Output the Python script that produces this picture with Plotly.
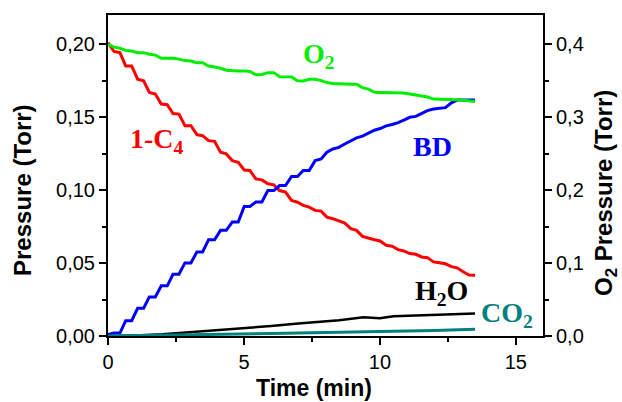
import plotly.graph_objects as go

# ---------------- data ----------------
time = [0.00, 0.22, 0.44, 0.65, 0.87, 1.09, 1.31, 1.52, 1.74, 1.96,
        2.18, 2.39, 2.61, 2.83, 3.05, 3.27, 3.48, 3.70, 3.92, 4.14,
        4.35, 4.57, 4.79, 5.01, 5.22, 5.44, 5.66, 5.88, 6.10, 6.31,
        6.53, 6.75, 6.97, 7.18, 7.40, 7.62, 7.84, 8.05, 8.27, 8.49,
        8.71, 8.93, 9.14, 9.36, 9.58, 9.80, 10.01, 10.23, 10.45, 10.67,
        10.88, 11.10, 11.32, 11.54, 11.75, 11.97, 12.19, 12.41, 12.63, 12.84,
        13.06, 13.28, 13.50]

c4_1 = [0.201, 0.195, 0.1942, 0.1851, 0.1851, 0.176, 0.1749, 0.1669, 0.1658, 0.159,
        0.1585, 0.1525, 0.1521, 0.1441, 0.1441, 0.138, 0.1373, 0.1339, 0.1334, 0.1259,
        0.1248, 0.1202, 0.119, 0.1138, 0.1134, 0.1077, 0.107, 0.1043, 0.1036, 0.0997,
        0.0986, 0.0929, 0.0917, 0.0895, 0.0883, 0.0861, 0.0856, 0.0815, 0.0804, 0.0788,
        0.0774, 0.0736, 0.0724, 0.0683, 0.0674, 0.066, 0.0651, 0.0622, 0.0615, 0.0592,
        0.0583, 0.0565, 0.056, 0.0542, 0.0537, 0.0508, 0.0502, 0.0495, 0.0475, 0.0467,
        0.044, 0.0418, 0.0417]

bd = [0.001, 0.002, 0.002, 0.0105, 0.0105, 0.019, 0.019, 0.0268, 0.0268, 0.0344,
      0.0344, 0.0423, 0.0423, 0.0501, 0.0501, 0.0576, 0.0576, 0.066, 0.066, 0.0724,
      0.0724, 0.0781, 0.0781, 0.0888, 0.0888, 0.0918, 0.0918, 0.0997, 0.0997, 0.1031,
      0.1031, 0.1093, 0.1093, 0.1134, 0.1134, 0.1202, 0.1214, 0.1259, 0.1282, 0.1293,
      0.1316, 0.1335, 0.1358, 0.137, 0.139, 0.141, 0.1422, 0.144, 0.145, 0.1462,
      0.148, 0.1499, 0.1505, 0.1528, 0.1545, 0.1556, 0.156, 0.1565, 0.1598, 0.1617,
      0.1617, 0.1617, 0.1617]

o2 = [0.400, 0.396, 0.3944, 0.3915, 0.3907, 0.3884, 0.3884, 0.3862, 0.385, 0.3807,
      0.3807, 0.3807, 0.3795, 0.3775, 0.377, 0.3747, 0.3745, 0.370, 0.3687, 0.367,
      0.3643, 0.3634, 0.3634, 0.3634, 0.3625, 0.358, 0.3585, 0.361, 0.361, 0.3555,
      0.3552, 0.3552, 0.350, 0.3497, 0.352, 0.352, 0.350, 0.3474, 0.346, 0.3455,
      0.3455, 0.3452, 0.3452, 0.3405, 0.3384, 0.334, 0.3338, 0.3338, 0.3338, 0.3338,
      0.333, 0.3316, 0.3305, 0.329, 0.3277, 0.3247, 0.3247, 0.3247, 0.3245, 0.3238,
      0.323, 0.3222, 0.3215]

time_h2o = [0, 1, 2, 3, 4, 5, 6, 7, 7.8, 8.5, 9.4, 10, 10.5, 11.2, 11.8, 12.5, 13.5]
h2o = [0, 0.0003, 0.0012, 0.0025, 0.004, 0.0053, 0.0068, 0.0085, 0.0098, 0.0108,
       0.0128, 0.0122, 0.0136, 0.014, 0.0143, 0.0148, 0.0155]

time_co2 = [0, 2, 4, 6, 8, 10, 12, 13.5]
co2 = [0, 0.0004, 0.001, 0.0017, 0.0024, 0.003, 0.0038, 0.0046]

# label positions (data units: time, left-axis pressure)
labels = [
    ("O<sub>2</sub>", 7.75, 0.192, "#00EE00"),
    ("1-C<sub>4</sub>", 1.80, 0.134, "#FF0000"),
    ("BD", 11.92, 0.130, "#0000FF"),
    ("H<sub>2</sub>O", 12.27, 0.0295, "#000000"),
    ("CO<sub>2</sub>", 14.68, 0.0145, "#008080"),
]

# ---------------- figure ----------------
n = min(len(time), len(c4_1), len(bd), len(o2))
fig = go.Figure()
fig.add_trace(go.Scatter(x=time[:n], y=o2[:n], yaxis="y2", mode="lines",
                         line=dict(color="#00EE00", width=3), name="O2"))
fig.add_trace(go.Scatter(x=time[:n], y=c4_1[:n], mode="lines",
                         line=dict(color="#FF0000", width=3), name="1-C4"))
fig.add_trace(go.Scatter(x=time[:n], y=bd[:n], mode="lines",
                         line=dict(color="#0000FF", width=3), name="BD"))
fig.add_trace(go.Scatter(x=time_h2o, y=h2o, mode="lines",
                         line=dict(color="#000000", width=2.5), name="H2O"))
fig.add_trace(go.Scatter(x=time_co2, y=co2, mode="lines",
                         line=dict(color="#008080", width=3), name="CO2"))

tickfont = dict(family="Arial, Liberation Sans", size=20, color="black")
axis_common = dict(showgrid=False, zeroline=False, showline=True, linecolor="black",
                   linewidth=2, ticks="outside", ticklen=7, tickwidth=2,
                   tickcolor="black", tickfont=tickfont)

fig.update_layout(
    width=622, height=402,
    margin=dict(l=108, r=79, t=15, b=66),
    paper_bgcolor="white", plot_bgcolor="white",
    showlegend=False,
    separators=", ",
    xaxis=dict(range=[0, 16], dtick=5, tick0=0, mirror=True,
               minor=dict(dtick=2.5, ticks="outside", ticklen=4, tickwidth=2,
                          tickcolor="black"),
               **axis_common),
    yaxis=dict(range=[0, 0.22], dtick=0.05, tick0=0, tickformat=".2f",
               minor=dict(dtick=0.025, ticks="outside", ticklen=4, tickwidth=2,
                          tickcolor="black"),
               **axis_common),
    yaxis2=dict(range=[0, 0.44], dtick=0.1, tick0=0, tickformat=".1f",
                overlaying="y", side="right",
                minor=dict(dtick=0.05, ticks="outside", ticklen=4, tickwidth=2,
                           tickcolor="black"),
                **axis_common),
)

title_font = dict(family="Arial, Liberation Sans", size=24, color="black")
fig.add_annotation(text="<b>Pressure (Torr)</b>", xref="paper", yref="paper",
                   x=0, y=0, xshift=-86, yshift=146, textangle=-90,
                   showarrow=False, font=title_font, xanchor="center", yanchor="middle")
fig.add_annotation(text="<b>O<sub>2</sub> Pressure (Torr)</b>", xref="paper", yref="paper",
                   x=1, y=0, xshift=62, yshift=143, textangle=-90,
                   showarrow=False, font=title_font, xanchor="center", yanchor="middle")
fig.add_annotation(text="<b>Time (min)</b>", xref="paper", yref="paper",
                   x=0, y=0, xshift=206, yshift=-52,
                   showarrow=False, font=dict(family="Arial, Liberation Sans", size=23,
                                              color="black"),
                   xanchor="center", yanchor="middle")

for txt, lx, ly, col in labels:
    fig.add_annotation(text="<b>" + txt + "</b>", x=lx, y=ly, xref="x", yref="y",
                       showarrow=False, xanchor="center", yanchor="middle",
                       font=dict(family="Liberation Serif, Times New Roman", size=28, color=col))

fig.write_html("out.html")
